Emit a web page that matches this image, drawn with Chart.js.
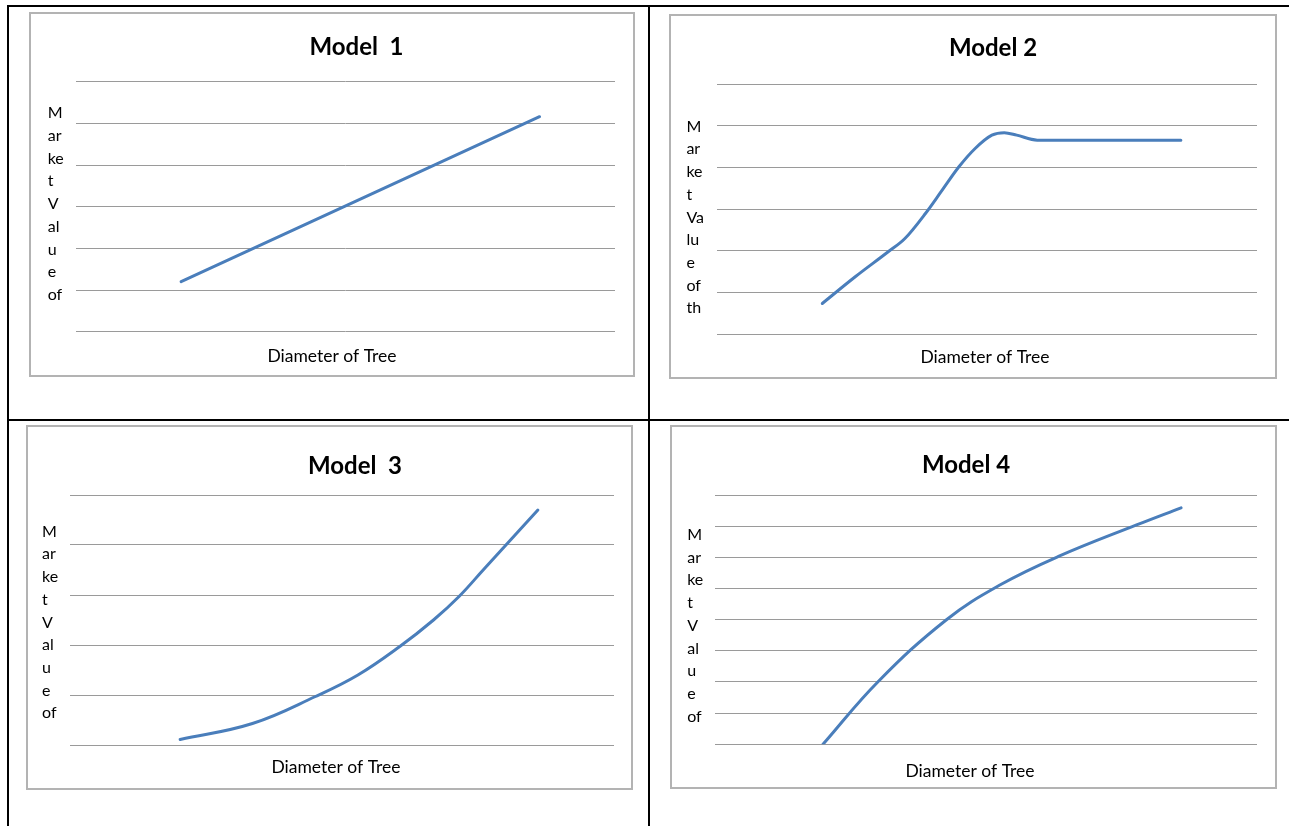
<!DOCTYPE html>
<html>
<head>
<meta charset="utf-8">
<title>Market Value vs Diameter of Tree — Models 1–4</title>
<script src="https://cdn.jsdelivr.net/npm/chart.js@4.4.1/dist/chart.umd.min.js"></script>
<style>
  html, body { margin: 0; padding: 0; background: #ffffff; }
  body { position: relative; width: 1289px; height: 826px; overflow: hidden; font-family: Lato, "Open Sans", sans-serif; }
  .rule { position: absolute; background: #000; }
  .box { position: absolute; box-sizing: border-box; border: 2px solid #b3b3b3; background: #fff; }
  .box canvas { position: absolute; left: 0; top: 0; }
</style>
</head>
<body>
<!-- table grid around the four panels -->
<div class="rule" style="left:7px; top:5px; width:1282px; height:2px;"></div>
<div class="rule" style="left:7px; top:419px; width:1282px; height:2px;"></div>
<div class="rule" style="left:7px; top:5px; width:2px; height:821px;"></div>
<div class="rule" style="left:648px; top:5px; width:2px; height:821px;"></div>

<div class="box" id="box1"><canvas id="chart1"></canvas></div>
<div class="box" id="box2"><canvas id="chart2"></canvas></div>
<div class="box" id="box3"><canvas id="chart3"></canvas></div>
<div class="box" id="box4"><canvas id="chart4"></canvas></div>

<script>
// ---- text ----
const modelTitles = ['Model  1', 'Model 2', 'Model  3', 'Model 4'];
const xAxisTitle = 'Diameter of Tree';
const yLabelPieces = ['M', 'ar', 'ke', 't', 'V', 'al', 'u', 'e', 'of'];
const yLabelPieces2 = ['M', 'ar', 'ke', 't', 'Va', 'lu', 'e', 'of', 'th'];

// ---- series: diameter (x) and market value (y) ----
const diameter1 = [1.95, 8.6];
const value1 = [1.2, 5.16];

const diameter2 = [1.95, 2.56, 3.17, 3.48, 3.86, 4.17, 4.48, 4.78, 5.09, 5.32, 5.55, 5.93, 8.59];
const value2 = [0.74, 1.38, 1.98, 2.30, 2.90, 3.46, 4.02, 4.46, 4.78, 4.84, 4.78, 4.66, 4.66];

const diameter3 = [2.02, 3.35, 4.51, 5.29, 6.06, 6.68, 7.15, 7.61, 8.6];
const value3 = [0.11, 0.43, 0.97, 1.40, 1.97, 2.50, 2.97, 3.52, 4.7];

const diameter4 = [2.0, 3.01, 4.27, 5.26, 6.33, 7.78, 8.6];
const value4 = [0, 2.0, 3.99, 5.11, 6.02, 7.04, 7.59];

// ---- axis ranges (one gridline per unit of value) ----
const diameterRange = [0, 10];
const valueMax = [6, 6, 5, 8];

// ---- page layout of each panel (page pixels) ----
const panels = [
  { box: [29, 12, 635, 377],   area: [76, 81.7, 615, 331.7],    title: [356.5, 55],  xTitle: [332, 361.5], yText: [47.7, 118.3, 22.7] },
  { box: [669, 14, 1277, 379], area: [717, 84.3, 1257, 334.3],  title: [993, 56],    xTitle: [985, 362.5], yText: [686.4, 131.7, 22.7] },
  { box: [26, 425, 633, 790],  area: [70.3, 495, 614, 745],     title: [355, 474],   xTitle: [336, 773.3], yText: [42, 536.7, 22.7] },
  { box: [670, 425, 1277, 789],area: [714.5, 495, 1257, 744.3], title: [966, 473.3], xTitle: [970, 776.7], yText: [687.2, 540, 22.7] }
];

// curve style per model: the plateau model keeps a monotone curve so it does not overshoot
const series = [
  { x: diameter1, y: value1, pieces: yLabelPieces,  mode: 'default',  tension: 0 },
  { x: diameter2, y: value2, pieces: yLabelPieces2, mode: 'monotone', tension: 0.4 },
  { x: diameter3, y: value3, pieces: yLabelPieces,  mode: 'default',  tension: 0.4 },
  { x: diameter4, y: value4, pieces: yLabelPieces,  mode: 'default',  tension: 0.4 }
];

const BORDER = 2;
const LINE_BLUE = '#4a7ebb';
const GRID_GREY = '#9a9a9a';

// Draws the panel title, the x-axis title and the broken-up vertical y label.
function panelLabels(idx, originX, originY) {
  const p = panels[idx];
  const s = series[idx];
  return {
    id: 'panelLabels' + idx,
    afterDraw(chart) {
      const c = chart.ctx;
      c.save();
      c.fillStyle = '#000';
      c.textBaseline = 'alphabetic';
      c.textAlign = 'center';
      c.font = 'bold 24px Lato, "Open Sans", sans-serif';
      c.fillText(modelTitles[idx], p.title[0] - originX, p.title[1] - originY);
      c.font = '17.5px Lato, "Open Sans", sans-serif';
      c.fillText(xAxisTitle, p.xTitle[0] - originX, p.xTitle[1] - originY);
      c.textAlign = 'left';
      c.font = '16px Lato, "Open Sans", sans-serif';
      s.pieces.forEach((t, i) => {
        c.fillText(t, p.yText[0] - originX, p.yText[1] - originY + i * p.yText[2]);
      });
      c.restore();
    }
  };
}

function buildPanel(idx) {
  const p = panels[idx];
  const s = series[idx];
  const [bl, bt, br, bb] = p.box;
  const box = document.getElementById('box' + (idx + 1));
  box.style.left = bl + 'px';
  box.style.top = bt + 'px';
  box.style.width = (br - bl) + 'px';
  box.style.height = (bb - bt) + 'px';

  const originX = bl + BORDER, originY = bt + BORDER;
  const w = br - bl - 2 * BORDER, h = bb - bt - 2 * BORDER;
  const canvas = document.getElementById('chart' + (idx + 1));
  canvas.width = w;
  canvas.height = h;
  canvas.style.width = w + 'px';
  canvas.style.height = h + 'px';

  const [al, at, ar, ab] = p.area;
  new Chart(canvas, {
    type: 'line',
    data: {
      datasets: [{
        data: s.x.map((x, i) => ({ x: x, y: s.y[i] })),
        borderColor: LINE_BLUE,
        borderWidth: 3,
        pointRadius: 0,
        pointHoverRadius: 0,
        fill: false,
        cubicInterpolationMode: s.mode,
        tension: s.tension,
        borderCapStyle: 'round'
      }]
    },
    options: {
      responsive: false,
      animation: false,
      devicePixelRatio: 1,
      events: [],
      layout: {
        padding: { left: al - originX, top: at - originY, right: originX + w - ar, bottom: originY + h - ab }
      },
      plugins: {
        legend: { display: false },
        tooltip: { enabled: false },
        title: { display: false }
      },
      scales: {
        x: {
          type: 'linear',
          min: diameterRange[0],
          max: diameterRange[1],
          display: false
        },
        y: {
          type: 'linear',
          min: 0,
          max: valueMax[idx],
          ticks: { display: false, stepSize: 1 },
          grid: { color: GRID_GREY, lineWidth: 1, drawTicks: false },
          border: { display: false }
        }
      }
    },
    plugins: [panelLabels(idx, originX, originY)]
  });
}

function drawAll() { panels.forEach((_, i) => buildPanel(i)); }

if (document.fonts && document.fonts.load) {
  Promise.all([
    document.fonts.load('bold 24px Lato'),
    document.fonts.load('17.5px Lato'),
    document.fonts.load('16px Lato')
  ]).then(drawAll, drawAll);
} else {
  drawAll();
}
</script>
</body>
</html>
